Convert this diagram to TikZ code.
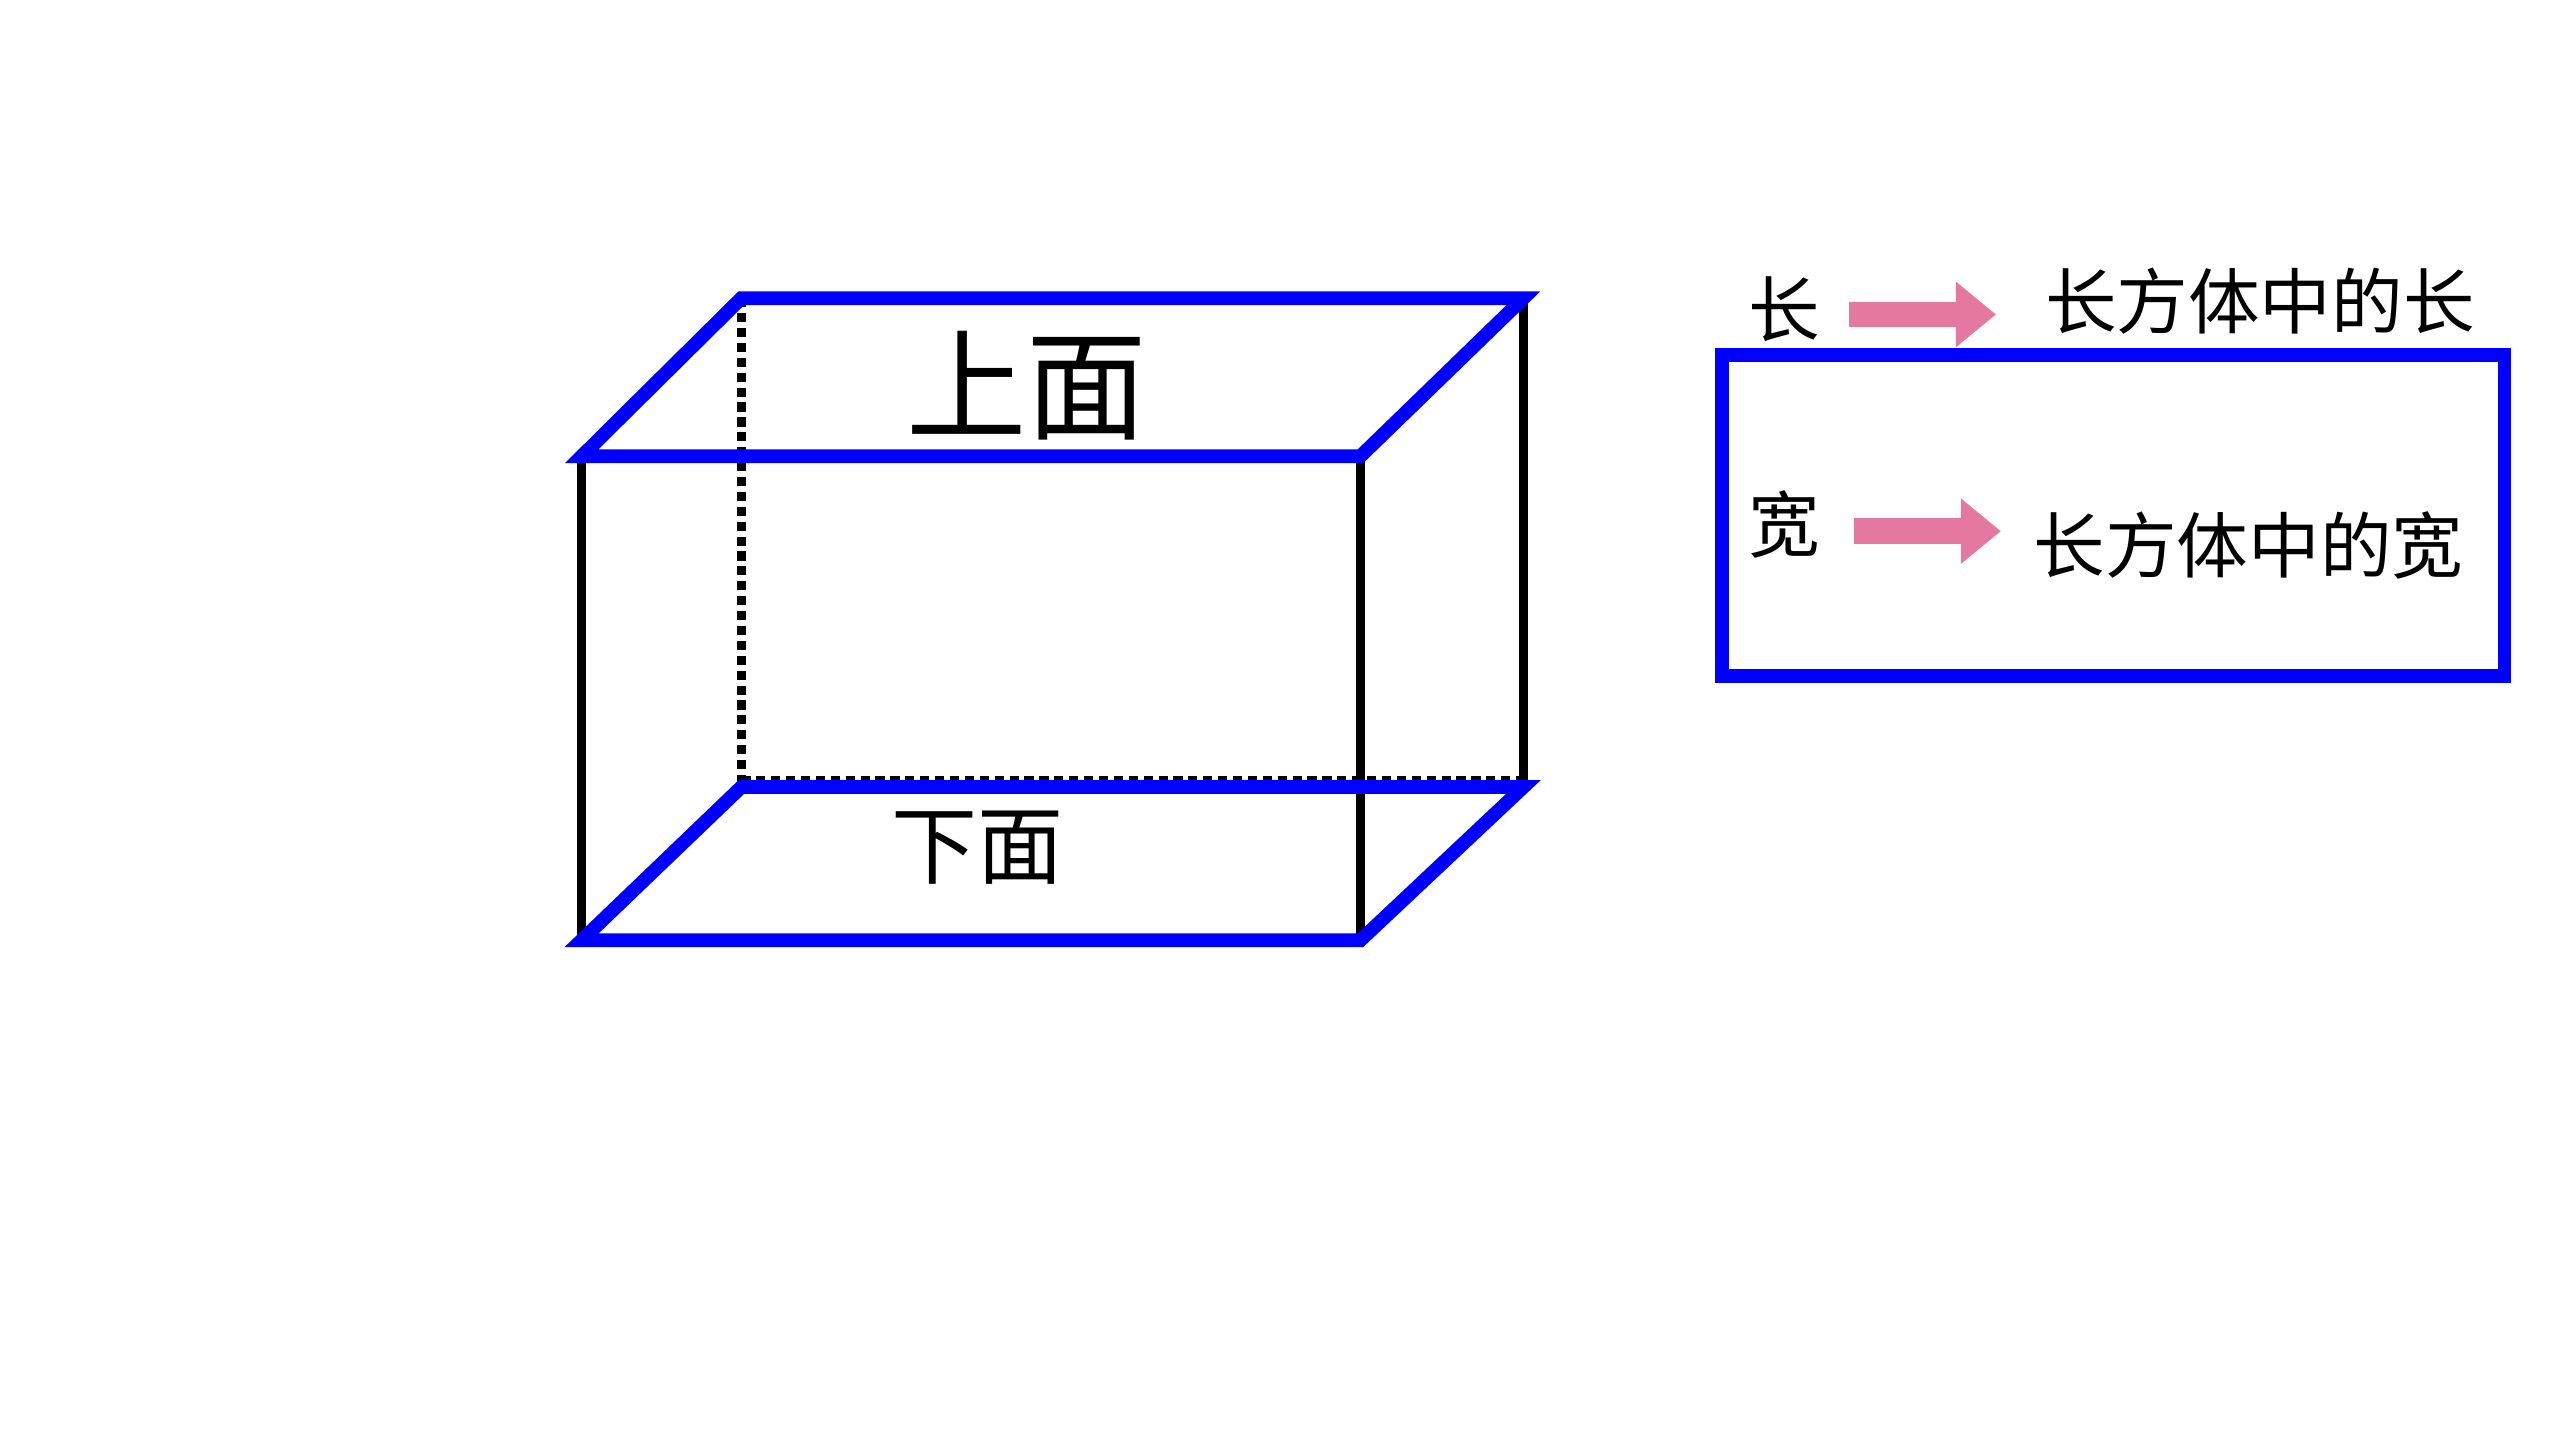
\documentclass[tikz,border=0pt]{standalone}
\usepackage{fontspec}
\newfontfamily\cjk{Noto Sans CJK SC}
\usetikzlibrary{arrows.meta,calc}
\tikzset{blueedge/.style={draw=blue, line width=2.4pt, line cap=round},
  blackedge/.style={draw=black, line width=1.6pt},
  pinkarrow/.style={draw={rgb,255:red,228;green,120;blue,160}, line width=4.5pt, -{Triangle[length=7pt,width=11pt]}},
  label/.style={font=\cjk\fontsize{12.5pt}{15pt}\selectfont}}
\begin{document}
\begin{tikzpicture}[x=0.01cm, y=-0.01cm]
    \useasboundingbox (0,0) rectangle (1565,880);
    % corners of the box
    \coordinate (A) at (357,280);
    \coordinate (B) at (835,280);
    \coordinate (C) at (835,577);
    \coordinate (D) at (357,577);
    \coordinate (E) at (455,183);
    \coordinate (F) at (935,183);
    \coordinate (G) at (935,483);
    \coordinate (H) at (455,483);

    \draw[blackedge] (A) -- (D);
    \draw[blackedge] (B) -- (C);
    \draw[blackedge] (F) -- (G);
    \draw[blackedge, densely dotted] (E) -- (H);
    \draw[blackedge, densely dotted] ($(H)+(0,-4)$) -- ($(G)+(0,-4)$);
    \draw[blueedge] (A) -- (B) -- (F) -- (E) -- cycle;
    \draw[blueedge] (D) -- (C) -- (G) -- (H) -- cycle;

    \node[font=\cjk\fontsize{21pt}{24pt}\selectfont] (top) at (630,237) {上面};
    \node[font=\cjk\fontsize{15pt}{18pt}\selectfont] (bottom) at (600,520) {下面};

    % legend on the right
    \draw[blueedge, line cap=butt] (1057,218) rectangle (1537,415);
    \node[label] (l1) at (1095,190) {长};
    \node[label] (r1) at (1387,185) {长方体中的长};
    \node[label] (l2) at (1095,322) {宽};
    \node[label] (r2) at (1380,335) {长方体中的宽};
    \draw[pinkarrow] (1135,193) -- (1225,193);
    \draw[pinkarrow] (1138,326) -- (1228,326);
\end{tikzpicture}
\end{document}
